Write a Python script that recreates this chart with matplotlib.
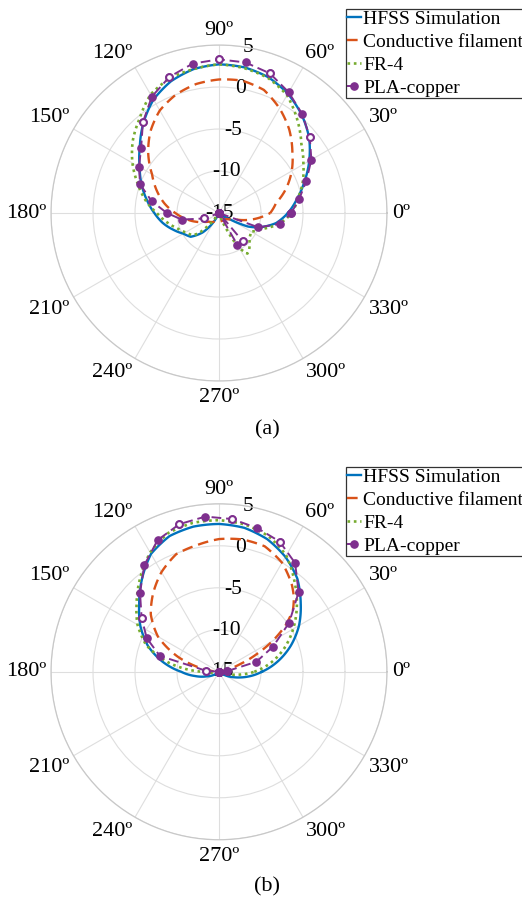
import numpy as np
import matplotlib
matplotlib.use('Agg')
import matplotlib.pyplot as plt

plt.rcParams['font.family'] = ['Liberation Serif', 'DejaVu Serif']

# ---------------- data (dB vs angle in degrees) ----------------
series_names = ['HFSS Simulation', 'Conductive filament', 'FR-4', 'PLA-copper']
theta_ticks = list(range(0, 360, 30))
theta_labels = [f'{t}\u00ba' for t in theta_ticks]
r_ticks = [-15, -10, -5, 0, 5]
r_labels = ['-15', '-10', '-5', '0', '5']
captions = ['(a)', '(b)']

# (a)
a_hfss_th = [0, 10, 20, 30, 40, 50, 60, 70, 80, 90, 100, 110, 120, 130, 140, 150, 160, 170,
             180, 190, 200, 210, 220, 230, 240, 245, 320, 325, 330, 335, 340, 350, 360]
a_hfss_r = [-6.8, -5.6, -4.2, -2.6, -1.0, 0.3, 1.4, 2.2, 2.6, 2.7, 2.4, 1.7, 0.6, -1.0, -2.7, -4.1, -5.2, -6.3,
            -7.3, -8.2, -9.2, -10.1, -10.6, -12.0, -14.0, -15.0, -15.0, -14.8, -13.5, -11.2, -10.0, -8.1, -6.8]

a_cond_th = [0, 10, 20, 30, 40, 50, 60, 70, 80, 90, 100, 110, 120, 130, 140, 150, 160, 170,
             180, 190, 200, 210, 220, 230, 240, 250, 270, 290, 310, 320, 330, 340, 350, 360]
a_cond_r = [-8.9, -8.1, -6.5, -5.0, -3.6, -2.0, -0.6, 0.6, 1.0, 0.9, 0.6, 0.0, -0.9, -2.3, -4.0, -5.8, -7.1, -8.4,
            -9.8, -11.0, -12.0, -12.9, -13.4, -13.6, -13.8, -13.9, -14.0, -14.0, -14.0, -13.9, -13.5, -12.7, -10.8, -8.9]

a_fr4_th = [0, 10, 20, 30, 40, 50, 60, 70, 80, 90, 100, 110, 120, 130, 140, 150, 160, 170,
            180, 190, 200, 210, 220, 225, 230, 235, 240, 285, 290, 295, 300, 305, 310, 320, 330, 335, 340, 350, 360]
a_fr4_r = [-6.3, -5.5, -4.4, -3.4, -2.2, -0.5, 1.2, 2.1, 2.5, 2.7, 2.4, 2.1, 1.3, -0.3, -1.6, -3.1, -4.7, -6.1,
           -7.6, -8.7, -9.7, -10.4, -10.9, -11.6, -13.2, -14.5, -15.0, -15.0, -14.6, -12.8, -10.2, -9.1, -9.4, -10.3, -10.6, -10.0, -9.5, -7.7, -6.3]

a_pla_th = list(range(0, 360, 10)) + [360]
a_pla_r = [-6.4, -5.3, -3.95, -2.3, -0.9, 0.4, 1.6, 2.7, 3.2, 3.3, 3.06, 2.25, 1.0, -0.9, -2.9, -4.0, -5.0, -6.85,
           -8.8, -10.5, -13.1, -15, -15, -15, -15, -15, -15, -15, -15, -15, -10.6, -10.6, -15, -15, -10.0, -7.6, -6.4]
a_pla_open = [40, 70, 90, 110, 130, 200, 310]

# (b)
b_hfss_th = [0, 10, 20, 30, 40, 50, 60, 70, 80, 90, 100, 110, 120, 130, 140, 150, 160, 170,
             180, 190, 200, 210, 220, 320, 330, 340, 345, 350, 360]
b_hfss_r = [-9.9, -7.9, -5.9, -4.0, -2.3, -0.5, 0.8, 1.8, 2.4, 2.6, 2.55, 2.2, 1.2, -0.7, -2.6, -4.2, -6.0, -8.2,
            -10.5, -12.1, -13.4, -14.2, -15.0, -15.0, -14.2, -13.1, -12.4, -11.6, -9.9]

b_cond_th = [0, 10, 15, 20, 25, 30, 35, 40, 45, 50, 60, 70, 80, 90, 100, 110, 120, 130, 140, 145,
             150, 155, 160, 165, 170, 175, 180, 350, 360]
b_cond_r = [-15.0, -14.5, -13.9, -12.3, -10.1, -7.6, -5.3, -3.5, -2.4, -1.5, 0.0, 0.9, 1.0, 0.8, 0.3, -0.1, -1.3, -2.8, -4.4, -5.5,
            -6.6, -8.2, -9.8, -11.6, -13.3, -14.5, -15.0, -15.0, -15.0]

b_fr4_th = [0, 10, 20, 30, 40, 50, 60, 70, 80, 90, 100, 110, 120, 130, 140, 150, 160, 170, 175,
            180, 190, 200, 340, 350, 360]
b_fr4_r = [-10.8, -8.7, -6.7, -4.8, -2.9, -1.0, 1.0, 2.2, 2.8, 3.05, 3.0, 2.6, 1.4, -0.4, -2.2, -3.8, -5.8, -9.0, -10.9,
           -13.0, -14.4, -15.0, -14.5, -13.0, -10.8]

b_pla_th = list(range(5, 360, 10)) + [365]
b_pla_r = [-14.0, -10.4, -7.9, -4.8, -1.6, 0.8, 2.1, 2.7, 3.25, 3.55, 3.2, 2.3, 0.5, -1.7, -3.75, -5.5, -7.7, -13.4,
           -15, -15, -15, -15, -15, -15, -15, -15, -15, -15, -15, -15, -15, -15, -15, -15, -15, -15, -14.0]
b_pla_open = [65, 85, 105, 145, 175]

# ---------------- styling ----------------
C_BLUE = '#0072BD'
C_RED = '#D95319'
C_GREEN = '#77AC30'
C_PURPLE = '#7E2F8E'
GRID = '#dedede'
FS_T = 16
FS_R = 15.5
PX_PER_DB = 168 / 20.0


def theta_align(t):
    c, s = np.cos(np.deg2rad(t)), np.sin(np.deg2rad(t))
    ha = 'center' if abs(c) < 0.1 else ('left' if c > 0 else 'right')
    va = 'center' if abs(s) < 0.1 else ('bottom' if s > 0 else 'top')
    return ha, va


fig = plt.figure(figsize=(5.22, 8.99), dpi=100)

panels = [
    dict(rect=[0.0977, 0.5762, 0.6437, 0.3737], cap_y=1 - 430 / 899, leg_top=1 - 9 / 899,
         hfss=(a_hfss_th, a_hfss_r), cond=(a_cond_th, a_cond_r), fr4=(a_fr4_th, a_fr4_r),
         pla=(a_pla_th, a_pla_r), pla_open=a_pla_open, cap=captions[0]),
    dict(rect=[0.0977, 0.0659, 0.6437, 0.3737], cap_y=1 - 887 / 899, leg_top=1 - 467 / 899,
         hfss=(b_hfss_th, b_hfss_r), cond=(b_cond_th, b_cond_r), fr4=(b_fr4_th, b_fr4_r),
         pla=(b_pla_th, b_pla_r), pla_open=b_pla_open, cap=captions[1]),
]

for p in panels:
    ax = fig.add_axes(p['rect'], projection='polar')
    ax.set_axisbelow(True)
    ax.set_rlim(r_ticks[0], r_ticks[-1])
    ax.set_rticks(r_ticks)
    ax.set_yticklabels([])
    ax.set_thetagrids(theta_ticks, [''] * len(theta_ticks))
    ax.grid(True, color=GRID, lw=0.8)
    ax.spines['polar'].set_color('#c8c8c8')
    ax.spines['polar'].set_linewidth(0.9)
    # angular labels, MATLAB-style anchoring just outside the outer ring
    for t, lab in zip(theta_ticks, theta_labels):
        ha, va = theta_align(t)
        gap = 7 if t == 270 else 5
        ax.text(np.deg2rad(t), r_ticks[-1] + gap / PX_PER_DB, lab, ha=ha, va=va, fontsize=FS_T)
    # radial labels along 80 deg
    for rt, rl in zip(r_ticks, r_labels):
        ax.text(np.deg2rad(80), rt, rl, ha='center', va='center', fontsize=FS_R, zorder=1.5)

    th, r = p['hfss']
    l1, = ax.plot(np.deg2rad(th), r, color=C_BLUE, lw=1.7, label=series_names[0], zorder=3)
    th, r = p['cond']
    l2, = ax.plot(np.deg2rad(th), r, color=C_RED, lw=1.7, ls='--', dashes=(4.5, 2.5), label=series_names[1], zorder=3)
    th, r = p['fr4']
    l3, = ax.plot(np.deg2rad(th), r, color=C_GREEN, lw=1.9, ls=(0, (1, 1.4)), label=series_names[2], zorder=3)
    # smooth curves: interpolate in (theta, r) space when drawing
    for ln in (l1, l2, l3):
        ln.get_path()._interpolation_steps = 24
    th, r = p['pla']
    th = np.array(th); r = np.array(r)
    l4, = ax.plot(np.deg2rad(th), r, color=C_PURPLE, lw=1.4, ls='--', dashes=(5, 2.5), marker='o', ms=5.2,
                  mfc=C_PURPLE, mec=C_PURPLE, label=series_names[3], zorder=4)
    mask = np.isin(th, p['pla_open'])
    ax.plot(np.deg2rad(th[mask]), r[mask], ls='none', marker='o', ms=4.8, mfc='white', mec=C_PURPLE, mew=1.4, zorder=5)

    leg = fig.legend(handles=[l1, l2, l3, l4], loc='upper left', bbox_to_anchor=(345.5 / 522, p['leg_top']),
                     fontsize=14, handlelength=0.72, handletextpad=0.1, borderpad=0.08, labelspacing=0.27,
                     borderaxespad=0, fancybox=False, framealpha=1, edgecolor='#333333')
    leg.get_frame().set_linewidth(0.9)

    fig.text(267 / 522, p['cap_y'], p['cap'], ha='center', va='center', fontsize=FS_T)

fig.savefig('out.png', dpi=100)
